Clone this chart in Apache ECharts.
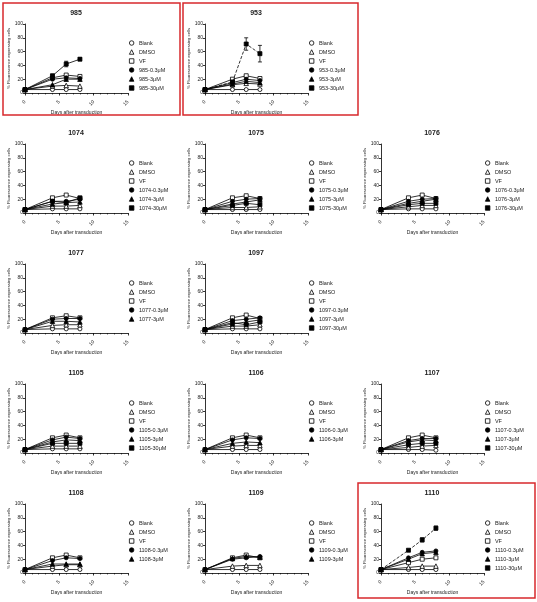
<!DOCTYPE html>
<html><head><meta charset="utf-8">
<script src="https://cdn.jsdelivr.net/npm/echarts@6/dist/echarts.min.js"></script>
<style>html,body{margin:0;padding:0;background:#fff}#c{width:537px;height:602px}</style>
</head><body><div id="c"></div>
<script>
// ---------- DATA ----------
const days = [0, 4, 6, 8];
const panelIds = ['985','953','1074','1075','1076','1077','1097','1105','1106','1107','1108','1109','1110'];
const baseLabels = ['Blank', 'DMSO', 'VF'];
const doseLabels = ['-0.3μM', '-3μM', '-30μM'];
const xTicks = [0, 5, 10, 15];
const yTicks = [0, 20, 40, 60, 80, 100];
// series order: Blank, DMSO, VF, 0.3μM, 3μM, 30μM
const d985  = [[5,5,5,5],[5,10,11,10],[5,22,26,24],[5,20,22,21],[5,12,20,20],[5,25,42,49]];
const d953  = [[5,5,5,5],[5,12,14,13],[5,20,25,21],[5,15,20,18],[5,13,17,15],[5,16,71,57]];
const d1074 = [[5,6,6,6],[5,10,10,11],[5,22,26,21],[5,17,17,20],[5,13,15,16],[5,17,15,22]];
const d1075 = [[5,5,5,5],[5,8,8,9],[5,22,25,21],[5,17,20,21],[5,13,16,19],[5,11,14,12]];
const d1076 = [[5,6,6,6],[5,9,11,11],[5,22,26,21],[5,17,20,21],[5,14,17,20],[5,12,14,14]];
const d1077 = [[5,6,6,6],[5,11,12,12],[5,22,25,22],[5,20,21,21],[5,17,17,16]];
const d1097 = [[5,6,6,6],[5,10,10,12],[5,22,26,21],[5,18,20,22],[5,13,16,19],[5,15,12,16]];
const d1105 = [[5,6,6,6],[5,10,10,10],[5,22,26,22],[5,19,23,21],[5,16,19,18],[5,14,14,14]];
const d1106 = [[5,5,5,5],[5,10,11,11],[5,22,26,22],[5,19,22,21],[5,14,16,15]];
const d1107 = [[5,5,5,4],[5,8,10,11],[5,22,26,22],[5,18,21,21],[5,16,19,18],[5,12,14,14]];
const d1108 = [[5,5,5,5],[5,10,12,12],[5,22,26,22],[5,18,22,21],[5,13,13,13]];
const d1109 = [[5,5,5,5],[5,10,11,11],[5,22,26,22],[5,20,22,24],[5,21,24,23]];
const d1110 = [[5,5,5,5],[5,8,10,10],[5,15,20,22],[5,22,30,32],[5,20,28,30],[5,33,48,65]];
// error bars [day, low, high] on the 30μM series
const err985  = [[4,23,27],[6,38,46],[8,47,51]];
const err953  = [[6,62,80],[8,45,69]];
const err1110 = [[6,45,51],[8,62,68]];

const panelData = [d985,d953,d1074,d1075,d1076,d1077,d1097,d1105,d1106,d1107,d1108,d1109,d1110];
const panelErr = {'985':err985,'953':err953,'1110':err1110};
const dashedPanels = ['953','1110'];

// ---------- LAYOUT ----------
const layout = [[0,0],[1,0],[0,1],[1,1],[2,1],[0,2],[1,2],[0,3],[1,3],[2,3],[0,4],[1,4],[2,4]];
const colX = [0, 180, 356];
const rowY = [0, 120, 240, 360, 480];
const symbols = ['circle','triangle','rect','circle','triangle','rect'];
const filled = [false,false,false,true,true,true];
const FONT = 'Liberation Sans, Arial, sans-serif';

const grids = [], xAxes = [], yAxes = [], series = [], legends = [], graphics = [];

function renderErr(params, api) {
  const x = api.value(0), lo = api.value(1), hi = api.value(2);
  const a = api.coord([x, hi]), b = api.coord([x, lo]);
  const w = 2;
  const st = {stroke:'#000', lineWidth:0.8};
  return {type:'group', children:[
    {type:'line', shape:{x1:a[0],y1:a[1],x2:b[0],y2:b[1]}, style:st},
    {type:'line', shape:{x1:a[0]-w,y1:a[1],x2:a[0]+w,y2:a[1]}, style:st},
    {type:'line', shape:{x1:b[0]-w,y1:b[1],x2:b[0]+w,y2:b[1]}, style:st}
  ]};
}

panelIds.forEach((id, i) => {
  const [c, r] = layout[i];
  const x0 = colX[c], y0 = rowY[r];
  grids.push({left:x0+25, top:y0+24, width:103, height:69});
  xAxes.push({
    gridIndex:i, type:'value', min:xTicks[0], max:xTicks[xTicks.length-1], interval:5, offset:6,
    name:'Days after transduction', nameLocation:'middle', nameGap:11,
    nameTextStyle:{fontSize:5, color:'#222', fontFamily:FONT},
    axisLine:{lineStyle:{color:'#000', width:0.8}},
    axisTick:{length:2.5, lineStyle:{color:'#000', width:0.8}},
    minorTick:{show:true, splitNumber:5, length:1.5, lineStyle:{color:'#000', width:0.6}},
    axisLabel:{fontSize:5, color:'#222', margin:2, rotate:45, fontFamily:FONT},
    splitLine:{show:false}
  });
  yAxes.push({
    gridIndex:i, type:'value', min:yTicks[0], max:yTicks[yTicks.length-1], interval:20,
    name:'% Fluorescence expressing cells', nameLocation:'middle', nameGap:10, nameRotate:90,
    nameTextStyle:{fontSize:4.2, color:'#222', fontFamily:FONT},
    axisLine:{show:true, lineStyle:{color:'#000', width:0.8}},
    axisTick:{show:true, length:2, lineStyle:{color:'#000', width:0.8}},
    axisLabel:{fontSize:5, color:'#222', margin:2, fontFamily:FONT},
    splitLine:{show:false}
  });
  graphics.push({type:'text', x:x0+76, y:y0+10, style:{text:id, textAlign:'center', font:'bold 7px ' + FONT, fill:'#222'}});
  const data = panelData[i];
  const names = baseLabels.concat(doseLabels.map(s => id + s)).slice(0, data.length);
  names.forEach((nm, k) => {
    const isDashed = dashedPanels.includes(id) && k === 5;
    series.push({
      type:'line', name:nm, xAxisIndex:i, yAxisIndex:i,
      data: days.map((d, j) => [d, data[k][j]]),
      symbol:symbols[k], symbolSize: k === 1 || k === 4 ? 4.5 : 4,
      lineStyle:{color:'#000', width:0.8, type: isDashed ? 'dashed' : 'solid'},
      itemStyle:{color: filled[k] ? '#000' : '#fff', borderColor:'#000', borderWidth:0.8},
      emphasis:{disabled:true}, animation:false, z: 2 + k
    });
  });
  if (panelErr[id]) {
    series.push({type:'custom', xAxisIndex:i, yAxisIndex:i, renderItem:renderErr, data:panelErr[id], z:1, animation:false});
  }
  legends.push({
    left:x0+129, top:y0+40, orient:'vertical', padding:0,
    itemWidth:4.5, itemHeight:4.5, itemGap:3, selectedMode:false,
    textStyle:{fontSize:5.5, color:'#222', fontFamily:FONT, lineHeight:5},
    data: names.map((nm, k) => ({
      name:nm, icon:symbols[k],
      itemStyle:{color: filled[k] ? '#000' : '#fff', borderColor:'#000', borderWidth:0.8}
    }))
  });
});

// red highlight boxes
[[3,3,177,112],[183,3,175,112],[358,483,177,115]].forEach(b => {
  graphics.push({type:'rect', shape:{x:b[0], y:b[1], width:b[2], height:b[3]}, style:{fill:'none', stroke:'#d8282c', lineWidth:1.5}, z:100});
});

const chart = echarts.init(document.getElementById('c'), null, {renderer:'canvas'});
chart.setOption({
  backgroundColor:'#fff', animation:false,
  grid:grids, xAxis:xAxes, yAxis:yAxes, series:series, legend:legends, graphic:graphics,
  textStyle:{fontFamily:FONT}
});
</script></body></html>
